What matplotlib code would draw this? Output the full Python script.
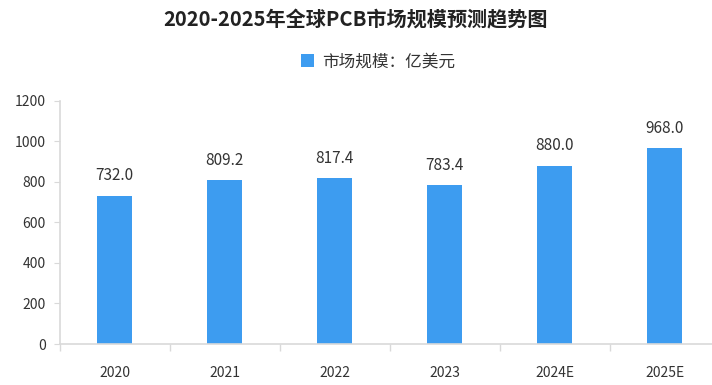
import matplotlib
matplotlib.use('Agg')
import matplotlib.pyplot as plt
import numpy as np

plt.rcParams['font.family'] = ['Noto Sans CJK SC', 'DejaVu Sans']

# chart data
years = ["2020", "2021", "2022", "2023", "2024E", "2025E"]
market_size = [732.0, 809.2, 817.4, 783.4, 880.0, 968.0]
y_ticks = [0, 200, 400, 600, 800, 1000, 1200]

title = "2020-2025年全球PCB市场规模预测趋势图"
series_name = "市场规模：亿美元"

bar_color = "#3d9cf0"
axis_color = "#d9d9d9"
text_color = "#333333"

fig = plt.figure(figsize=(7.12, 3.85), dpi=100)
ax = fig.add_axes([59.5 / 712, 41 / 385, 660 / 712, 243.3 / 385])

x = np.arange(len(years))
bars = ax.bar(x, market_size, width=0.32, color=bar_color, label=series_name, zorder=2)

# value labels above each bar
for xi, v in zip(x, market_size):
    ax.annotate(f"{v:.1f}", (xi, v), xytext=(0, 8), textcoords="offset points",
                ha="center", va="bottom", fontsize=11, color=text_color)

ax.set_xlim(-0.5, len(years) - 0.5)
ax.set_ylim(0, 1200)
ax.set_yticks(y_ticks)
ax.set_xticks(x)
ax.set_xticklabels(years)
ax.set_xticks(np.arange(len(years) + 1) - 0.5, minor=True)
ax.tick_params(axis="x", which="major", length=0, pad=16, labelsize=10, labelcolor=text_color)
ax.tick_params(axis="x", which="minor", length=5, color=axis_color, width=1)
ax.tick_params(axis="y", length=4, color=axis_color, pad=6, labelsize=10, labelcolor=text_color)

for side in ["top", "right"]:
    ax.spines[side].set_visible(False)
for side in ["left", "bottom"]:
    ax.spines[side].set_color(axis_color)
    ax.spines[side].set_linewidth(1.2)

fig.text(0.5, 1 - 20 / 385, title, ha="center", va="center",
         fontsize=14.5, fontweight="bold", color="#222222")
fig.legend(handles=[bars], labels=[series_name], loc="center",
           bbox_to_anchor=(378 / 712, 1 - 62 / 385), frameon=False,
           fontsize=12, handlelength=0.8, handleheight=0.8, handletextpad=0.5,
           labelcolor=text_color)

fig.savefig("out.png", dpi=100)
